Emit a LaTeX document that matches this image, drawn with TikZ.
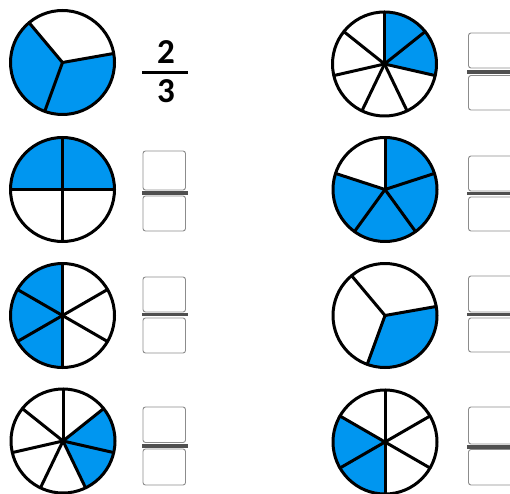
\documentclass[tikz,border=0pt]{standalone}
\usepackage{fontspec}
\newfontfamily\fracfont{Carlito}
\definecolor{pieblue}{RGB}{0,150,240}
\definecolor{boxgray}{RGB}{140,140,140}
\definecolor{bargray}{RGB}{80,80,80}
\tikzset{
  pieline/.style={line width=3pt, line join=round, line cap=round},
  ansbox/.style={draw=boxgray, line width=0.9pt, rounded corners=2.5pt, fill=white},
  ansbar/.style={draw=bargray, line width=3.5pt},
  fracnum/.style={inner sep=0pt, font=\fracfont\bfseries\fontsize{35}{35}\selectfont},
}
% #1 cx, #2 cy (y up), #3 number of sectors, #4 start angle, #5 blue sector indices
\newcommand\mypie[5]{%
  \begin{scope}[shift={(#1,#2)}]
    \foreach \k in {#5} {
      \fill[pieblue] (0,0) -- (#4-\k*360/#3:52pt)
        arc[start angle={#4-\k*360/#3}, delta angle={-360/#3}, radius=52pt] -- cycle;
    }
    \foreach \k in {1,...,#3} {\draw[pieline] (0,0) -- (#4-\k*360/#3:52pt);}
    \draw[pieline] (0,0) circle[radius=52pt];
  \end{scope}}
% #1 x left, #2 x right, #3 top box top, #4 top box bottom, #5 bar y, #6 bottom box top, #7 bottom box bottom, #8 bar left, #9 bar right (pixel coords, y down)
\newcommand\myboxes[9]{%
  \draw[ansbox] (#1,493-#3) rectangle (#2,493-#4);
  \draw[ansbox] (#1,493-#6) rectangle (#2,493-#7);
  \draw[ansbar] (#8,493-#5) -- (#9,493-#5);}
\begin{document}
\begin{tikzpicture}[x=1pt,y=1pt]
  \useasboundingbox (0,0) rectangle (510,493);
  \clip (0,0) rectangle (510,493);
  % pies
  \mypie{62.5}{430.5}{3}{10}{0,1}
  \mypie{384.5}{429}{7}{90}{0,1}
  \mypie{62.5}{303.5}{4}{180}{0,1}
  \mypie{385}{303.5}{5}{90}{0,1,2,3}
  \mypie{62.5}{177.5}{6}{90}{3,4,5}
  \mypie{385}{177.5}{3}{10}{0}
  \mypie{63}{52}{7}{90}{1,2}
  \mypie{385}{51}{6}{90}{3,4}
  % given fraction
  \node[fracnum] (num) at (166,440.5) {2};
  \node[fracnum] (den) at (166,401.5) {3};
  \coordinate (barL) at (142,420.5);
  \coordinate (barR) at (188,420.5);
  \draw[line width=2.8pt] (barL) -- (barR);
  % answer boxes, left column
  \myboxes{143}{185.5}{151}{190}{193}{196}{231}{142}{188}
  \myboxes{143}{185.5}{277}{312}{314.5}{318}{353}{142}{188}
  \myboxes{143}{185.5}{407}{442.5}{446}{449}{485}{142}{188}
  % answer boxes, right column
  \myboxes{468.5}{525}{33}{68}{72}{75.5}{110}{467}{515}
  \myboxes{468.5}{525}{156}{191}{193.5}{197}{231}{467}{515}
  \myboxes{468.5}{525}{276}{312}{314.5}{318}{352}{467}{515}
  \myboxes{468.5}{525}{407}{444}{447}{449.5}{485}{467}{515}
\end{tikzpicture}
\end{document}
